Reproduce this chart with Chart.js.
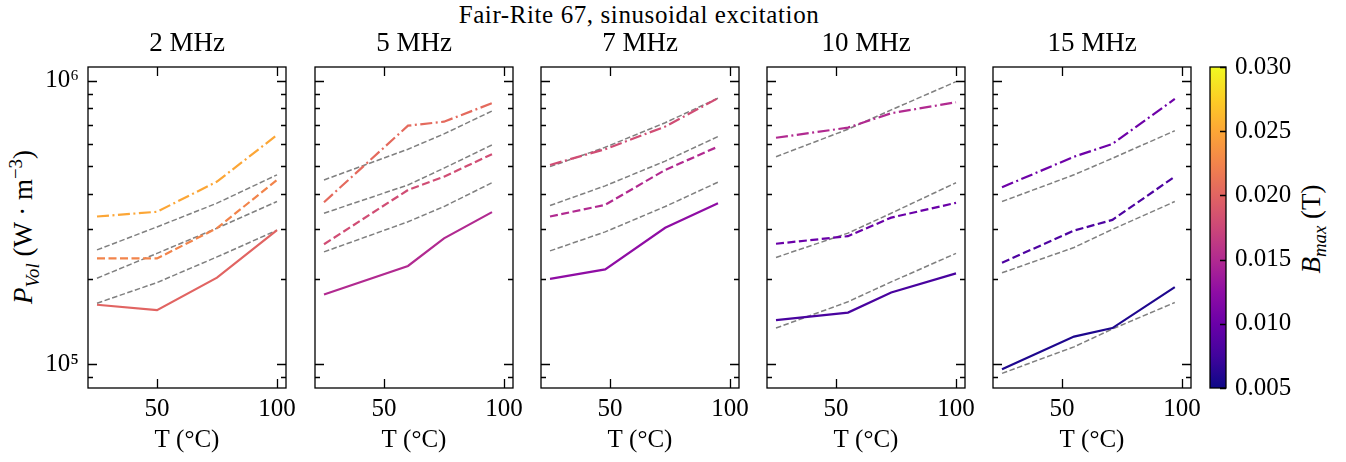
<!DOCTYPE html>
<html>
<head>
<meta charset="utf-8">
<title>Fair-Rite 67, sinusoidal excitation</title>
<script src="https://cdn.jsdelivr.net/npm/chart.js@4/dist/chart.umd.min.js"></script>
<style>
  body { margin: 0; background: #fff; }
  #wrap { position: relative; width: 1346px; height: 462px; overflow: hidden;
          font-family: "Liberation Serif", "DejaVu Serif", serif; color: #000; }
  #wrap canvas { position: absolute; top: 0; }
  .suptitle { position: absolute; left: 639px; top: 15px; transform: translate(-50%, -50%);
              font-size: 25px; letter-spacing: 0.6px; white-space: nowrap; }
  .vlabel { position: absolute; transform: translate(-50%, -50%) rotate(-90deg);
            font-size: 27px; white-space: nowrap; line-height: 1; }
  .vlabel sub, .vlabel sup { font-size: 70%; }
</style>
</head>
<body>
<div id="wrap">
  <div class="suptitle">Fair-Rite 67, sinusoidal excitation</div>
  <div class="vlabel" style="left:25px;top:227px"><i>P</i><sub><i>Vol</i></sub> (W · m<sup>−3</sup>)</div>
  <div class="vlabel" style="left:1314px;top:229px"><i>B</i><sub><i>max</i></sub> (T)</div>
</div>
<script>
// ---- data ----
const xTicks = [50, 100];
const yTicks = [9e4, 1e5, 2e5, 3e5, 4e5, 5e5, 6e5, 7e5, 8e5, 9e5, 1e6];
const cbTicks = [0.005, 0.010, 0.015, 0.020, 0.025, 0.030];

// 2 MHz
const temps2 = [25, 50, 75, 100];
const bmax2 = [0.020, 0.0225, 0.025];
const meas2 = [
  [162000, 155000, 202000, 297000],
  [236000, 236000, 302000, 447000],
  [332000, 345000, 441000, 644000],
];
const fit2 = [
  [164000, 194000, 239000, 297000],
  [201000, 246000, 302000, 375000],
  [253000, 305000, 370000, 466000],
];

// 5 MHz
const temps5 = [25, 60, 75, 95];
const bmax5 = [0.015, 0.018, 0.0205];
const meas5 = [
  [176000, 222000, 278000, 344000],
  [265000, 412000, 459000, 551000],
  [373000, 695000, 718000, 834000],
];
const fit5 = [
  [249000, 318000, 360000, 437000],
  [341000, 429000, 492000, 594000],
  [447000, 574000, 650000, 783000],
];

// 7 MHz
const temps7 = [25, 48, 73, 95];
const bmax7 = [0.0125, 0.015, 0.018];
const meas7 = [
  [200000, 216000, 303000, 370000],
  [332000, 365000, 485000, 586000],
  [505000, 574000, 690000, 869000],
];
const fit7 = [
  [251000, 293000, 360000, 439000],
  [363000, 426000, 521000, 636000],
  [498000, 583000, 712000, 869000],
];

// 10 MHz
const temps10 = [25, 55, 73, 100];
const bmax10 = [0.008, 0.010, 0.015];
const meas10 = [
  [143000, 152000, 179000, 209000],
  [266000, 283000, 329000, 371000],
  [630000, 684000, 769000, 841000],
];
const fit10 = [
  [134000, 166000, 195000, 246000],
  [238000, 290000, 341000, 437000],
  [540000, 675000, 790000, 994000],
];

// 15 MHz
const temps15 = [25, 55, 71, 97];
const bmax15 = [0.0058, 0.0083, 0.0103];
const meas15 = [
  [95800, 125000, 134000, 187000],
  [228000, 296000, 323000, 459000],
  [421000, 540000, 599000, 864000],
];
const fit15 = [
  [92700, 115000, 133000, 165000],
  [210000, 258000, 299000, 375000],
  [375000, 466000, 533000, 667000],
];

const panels = [
  { title: "2 MHz", temps: temps2, bmax: bmax2, meas: meas2, fit: fit2 },
  { title: "5 MHz", temps: temps5, bmax: bmax5, meas: meas5, fit: fit5 },
  { title: "7 MHz", temps: temps7, bmax: bmax7, meas: meas7, fit: fit7 },
  { title: "10 MHz", temps: temps10, bmax: bmax10, meas: meas10, fit: fit10 },
  { title: "15 MHz", temps: temps15, bmax: bmax15, meas: meas15, fit: fit15 },
];

// ---- layout / style ----
const FONT = "'Liberation Serif', 'DejaVu Serif', serif";
const H = 462;
const plotLefts = [88, 315, 541, 767, 993];
const plotW = 198;
const plotTop = 67;
const plotBottom = 388;
const axisW = 70;
const padRight = 24;  // room for the "100" label to hang past the frame
const titleY = 44;
const xMin = 21.25, xMax = 103.75;
const yMin = 82300, yMax = 1.12e6;
const cbMin = 0.005, cbMax = 0.030;

const plasmaStops = ["#0d0887", "#41049d", "#6a00a8", "#8f0da4", "#b12a90", "#cc4778",
                     "#e16462", "#f2844b", "#fca636", "#fcce25", "#f0f921"];
const dashes = [[], [8, 3.5], [12, 3.5, 2, 3.5]];

function hexToRgb(h) {
  return [1, 3, 5].map((i) => parseInt(h.slice(i, i + 2), 16));
}

function plasma(t) {
  t = Math.max(0, Math.min(1, t));
  const pos = t * (plasmaStops.length - 1);
  const i = Math.min(Math.floor(pos), plasmaStops.length - 2);
  const f = pos - i;
  const a = hexToRgb(plasmaStops[i]);
  const b = hexToRgb(plasmaStops[i + 1]);
  const c = a.map((v, k) => Math.round(v + (b[k] - v) * f));
  return `rgb(${c[0]}, ${c[1]}, ${c[2]})`;
}

function toPoints(temps, vals) {
  return temps.map((t, i) => ({ x: t, y: vals[i] }));
}

// frame + inward ticks on all four sides, plus the panel title centred on the plot
const frameTicks = {
  id: "frameTicks",
  afterDraw(chart, args, opts) {
    const { ctx, chartArea: a, scales } = chart;
    const x = scales.x, y = scales.y;
    ctx.save();
    ctx.strokeStyle = "#000";
    ctx.lineWidth = 1.3;
    ctx.strokeRect(a.left, a.top, a.right - a.left, a.bottom - a.top);
    ctx.beginPath();
    y.ticks.forEach((t) => {
      const py = Math.round(y.getPixelForValue(t.value)) + 0.5;
      const exp = Math.floor(Math.log10(t.value) + 1e-9);
      const len = Math.abs(t.value / Math.pow(10, exp) - 1) < 1e-6 ? 9 : 5;
      ctx.moveTo(a.left, py); ctx.lineTo(a.left + len, py);
      ctx.moveTo(a.right, py); ctx.lineTo(a.right - len, py);
    });
    x.ticks.forEach((t) => {
      const px = Math.round(x.getPixelForValue(t.value)) + 0.5;
      ctx.moveTo(px, a.bottom); ctx.lineTo(px, a.bottom - 9);
      ctx.moveTo(px, a.top); ctx.lineTo(px, a.top + 9);
    });
    ctx.stroke();

    if (opts && opts.text) {
      ctx.fillStyle = "#000";
      ctx.font = `27px ${FONT}`;
      ctx.textAlign = "center";
      ctx.textBaseline = "middle";
      ctx.fillText(opts.text, (a.left + a.right) / 2, titleY);
    }
    ctx.restore();
  },
};

function makeCanvas(left, width) {
  const c = document.createElement("canvas");
  c.width = width;
  c.height = H;
  c.style.left = left + "px";
  c.style.width = width + "px";
  c.style.height = H + "px";
  document.getElementById("wrap").appendChild(c);
  return c;
}

// ---- one chart per frequency ----
function createPanel(p, idx) {
  const canvas = makeCanvas(plotLefts[idx] - axisW, axisW + plotW + padRight);
  const datasets = [];

  p.meas.forEach((vals, k) => {
    datasets.push({
      data: toPoints(p.temps, vals),
      borderColor: plasma((p.bmax[k] - cbMin) / (cbMax - cbMin)),
      borderWidth: 2.2,
      borderDash: dashes[k],
      pointRadius: 0,
      tension: 0,
    });
  });
  p.fit.forEach((vals) => {
    datasets.push({
      data: toPoints(p.temps, vals),
      borderColor: "#808080",
      borderWidth: 1.5,
      borderDash: [5.5, 2.5],
      pointRadius: 0,
      tension: 0,
    });
  });

  new Chart(canvas, {
    type: "line",
    data: { datasets },
    options: {
      responsive: false,
      animation: false,
      devicePixelRatio: 1,
      layout: { padding: { top: plotTop, bottom: 0, left: 0, right: padRight } },
      plugins: {
        legend: { display: false },
        tooltip: { enabled: false },
        title: { display: false },
        frameTicks: { text: p.title },
      },
      scales: {
        x: {
          type: "linear",
          min: xMin,
          max: xMax,
          afterBuildTicks: (s) => { s.ticks = xTicks.map((v) => ({ value: v })); },
          afterFit: (s) => { s.height = H - plotBottom; },
          grid: { display: false, drawTicks: false },
          border: { display: false },
          ticks: {
            color: "#000",
            autoSkip: false,
            maxRotation: 0,
            padding: 6,
            font: { family: FONT, size: 25 },
          },
          title: {
            display: true,
            text: "T (°C)",
            color: "#000",
            font: { family: FONT, size: 25 },
            padding: { top: 0, bottom: 7 },
          },
        },
        y: {
          type: "logarithmic",
          min: yMin,
          max: yMax,
          afterBuildTicks: (s) => { s.ticks = yTicks.map((v) => ({ value: v })); },
          afterFit: (s) => { s.width = axisW; },
          grid: { display: false, drawTicks: false },
          border: { display: false },
          ticks: {
            color: "#000",
            autoSkip: false,
            padding: 9,
            font: { family: FONT, size: 25 },
            callback: (v) => {
              if (idx !== 0) return "";
              if (v === 1e6) return "10⁶";
              if (v === 1e5) return "10⁵";
              return "";
            },
          },
        },
      },
    },
    plugins: [frameTicks],
  });
}

// ---- colour bar (a single floating bar from cbMin to cbMax) ----
const colorbarFrame = {
  id: "colorbarFrame",
  afterDraw(chart) {
    const { ctx, chartArea: a, scales: { y } } = chart;
    ctx.save();
    ctx.strokeStyle = "#000";
    ctx.lineWidth = 1.3;
    ctx.strokeRect(a.left, a.top, a.right - a.left, a.bottom - a.top);
    ctx.beginPath();
    y.ticks.forEach((t) => {
      const py = Math.round(y.getPixelForValue(t.value)) + 0.5;
      ctx.moveTo(a.right, py); ctx.lineTo(a.right - 6, py);
    });
    ctx.stroke();
    ctx.restore();
  },
};

function createColorbar() {
  const left = 1190, width = 156;
  const canvas = makeCanvas(left, width);
  new Chart(canvas, {
    type: "bar",
    data: {
      labels: ["Bmax"],
      datasets: [{
        data: [[cbMin, cbMax]],
        borderWidth: 0,
        barPercentage: 1,
        categoryPercentage: 1,
        backgroundColor: (c) => {
          const a = c.chart.chartArea;
          if (!a) return plasmaStops[5];
          const g = c.chart.ctx.createLinearGradient(0, a.bottom, 0, a.top);
          plasmaStops.forEach((col, i) => g.addColorStop(i / (plasmaStops.length - 1), col));
          return g;
        },
      }],
    },
    options: {
      responsive: false,
      animation: false,
      devicePixelRatio: 1,
      layout: { padding: { top: plotTop, bottom: H - plotBottom, left: 20, right: 0 } },
      plugins: { legend: { display: false }, tooltip: { enabled: false } },
      scales: {
        x: { display: false },
        y: {
          type: "linear",
          position: "right",
          min: cbMin,
          max: cbMax,
          afterBuildTicks: (s) => { s.ticks = cbTicks.map((v) => ({ value: v })); },
          afterFit: (s) => { s.width = width - 20 - 16; },
          grid: { display: false, drawTicks: false },
          border: { display: false },
          ticks: {
            color: "#000",
            padding: 9,
            font: { family: FONT, size: 25 },
            callback: (v) => v.toFixed(3),
          },
        },
      },
    },
    plugins: [colorbarFrame],
  });
}

panels.forEach(createPanel);
createColorbar();
</script>
</body>
</html>
